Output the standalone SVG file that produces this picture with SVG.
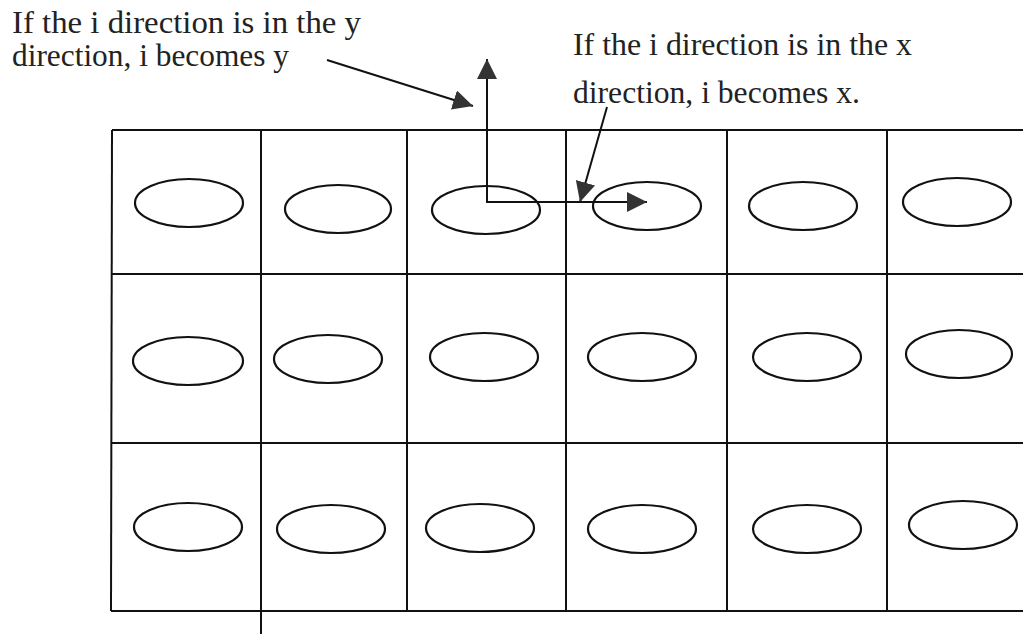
<svg xmlns="http://www.w3.org/2000/svg" width="1023" height="634" viewBox="0 0 1023 634">
<style>
.grid{stroke:#111;stroke-width:2;fill:none}
.cell ellipse{stroke:#111;stroke-width:2.2;fill:none}
.lbl{font-family:"Liberation Serif","Times New Roman",serif;font-size:31px;fill:#222}
.arr{stroke:#111;stroke-width:2;fill:none}
</style>
<defs>
<marker id="ah" viewBox="0 0 20 20" refX="20" refY="10" markerWidth="20" markerHeight="20" markerUnits="userSpaceOnUse" orient="auto">
<path d="M0,0 L20,10 L0,20 Z" fill="#333"/>
</marker>
</defs>
<rect width="1023" height="634" fill="#fff"/>
<g id="grid" class="grid">
<line x1="112" y1="130" x2="1023" y2="130"/>
<line x1="112" y1="274" x2="1023" y2="274"/>
<line x1="112" y1="443" x2="1023" y2="443"/>
<line x1="111" y1="611" x2="1023" y2="611"/>
<line x1="112" y1="130" x2="111" y2="611"/>
<line x1="261" y1="130" x2="261" y2="634"/>
<line x1="407" y1="130" x2="407" y2="611"/>
<line x1="566" y1="130" x2="566" y2="611"/>
<line x1="727" y1="130" x2="727" y2="611"/>
<line x1="887" y1="130" x2="887" y2="611"/>
</g>
<g id="cells" class="cell">
<ellipse id="c11" cx="189" cy="203" rx="54" ry="24"/>
<ellipse id="c12" cx="338" cy="209" rx="53" ry="24"/>
<ellipse id="c13" cx="486" cy="210" rx="54" ry="24"/>
<ellipse id="c14" cx="647" cy="206" rx="54" ry="24"/>
<ellipse id="c15" cx="803" cy="206" rx="54" ry="24"/>
<ellipse id="c16" cx="957" cy="202" rx="54" ry="24"/>
<ellipse id="c21" cx="188" cy="361" rx="55" ry="24"/>
<ellipse id="c22" cx="328" cy="359" rx="54" ry="24"/>
<ellipse id="c23" cx="484" cy="357" rx="54" ry="24"/>
<ellipse id="c24" cx="642" cy="357" rx="54" ry="24"/>
<ellipse id="c25" cx="807" cy="357" rx="54" ry="24"/>
<ellipse id="c26" cx="959" cy="354" rx="53" ry="24"/>
<ellipse id="c31" cx="188" cy="527" rx="54" ry="24"/>
<ellipse id="c32" cx="331" cy="529" rx="54" ry="24"/>
<ellipse id="c33" cx="480" cy="528" rx="54" ry="24"/>
<ellipse id="c34" cx="642" cy="529" rx="54" ry="24"/>
<ellipse id="c35" cx="807" cy="529" rx="54" ry="24"/>
<ellipse id="c36" cx="963" cy="525" rx="54" ry="24"/>
</g>
<g id="connectors" class="arr">
<path d="M487,203 L487,59" marker-end="url(#ah)"/>
<path d="M486,202 L647,202" marker-end="url(#ah)"/>
<path d="M327,60 L473,106" marker-end="url(#ah)"/>
<path d="M607,107 L580,202" marker-end="url(#ah)"/>
</g>
<g id="label-y">
<text class="lbl" x="12" y="33" textLength="349" lengthAdjust="spacingAndGlyphs">If the i direction is in the y</text>
<text class="lbl" x="12" y="66" textLength="277" lengthAdjust="spacingAndGlyphs">direction, i becomes y</text>
</g>
<g id="label-x">
<text class="lbl" x="573" y="55" textLength="339" lengthAdjust="spacingAndGlyphs">If the i direction is in the x</text>
<text class="lbl" x="573" y="103" textLength="287" lengthAdjust="spacingAndGlyphs">direction, i becomes x.</text>
</g>
</svg>
